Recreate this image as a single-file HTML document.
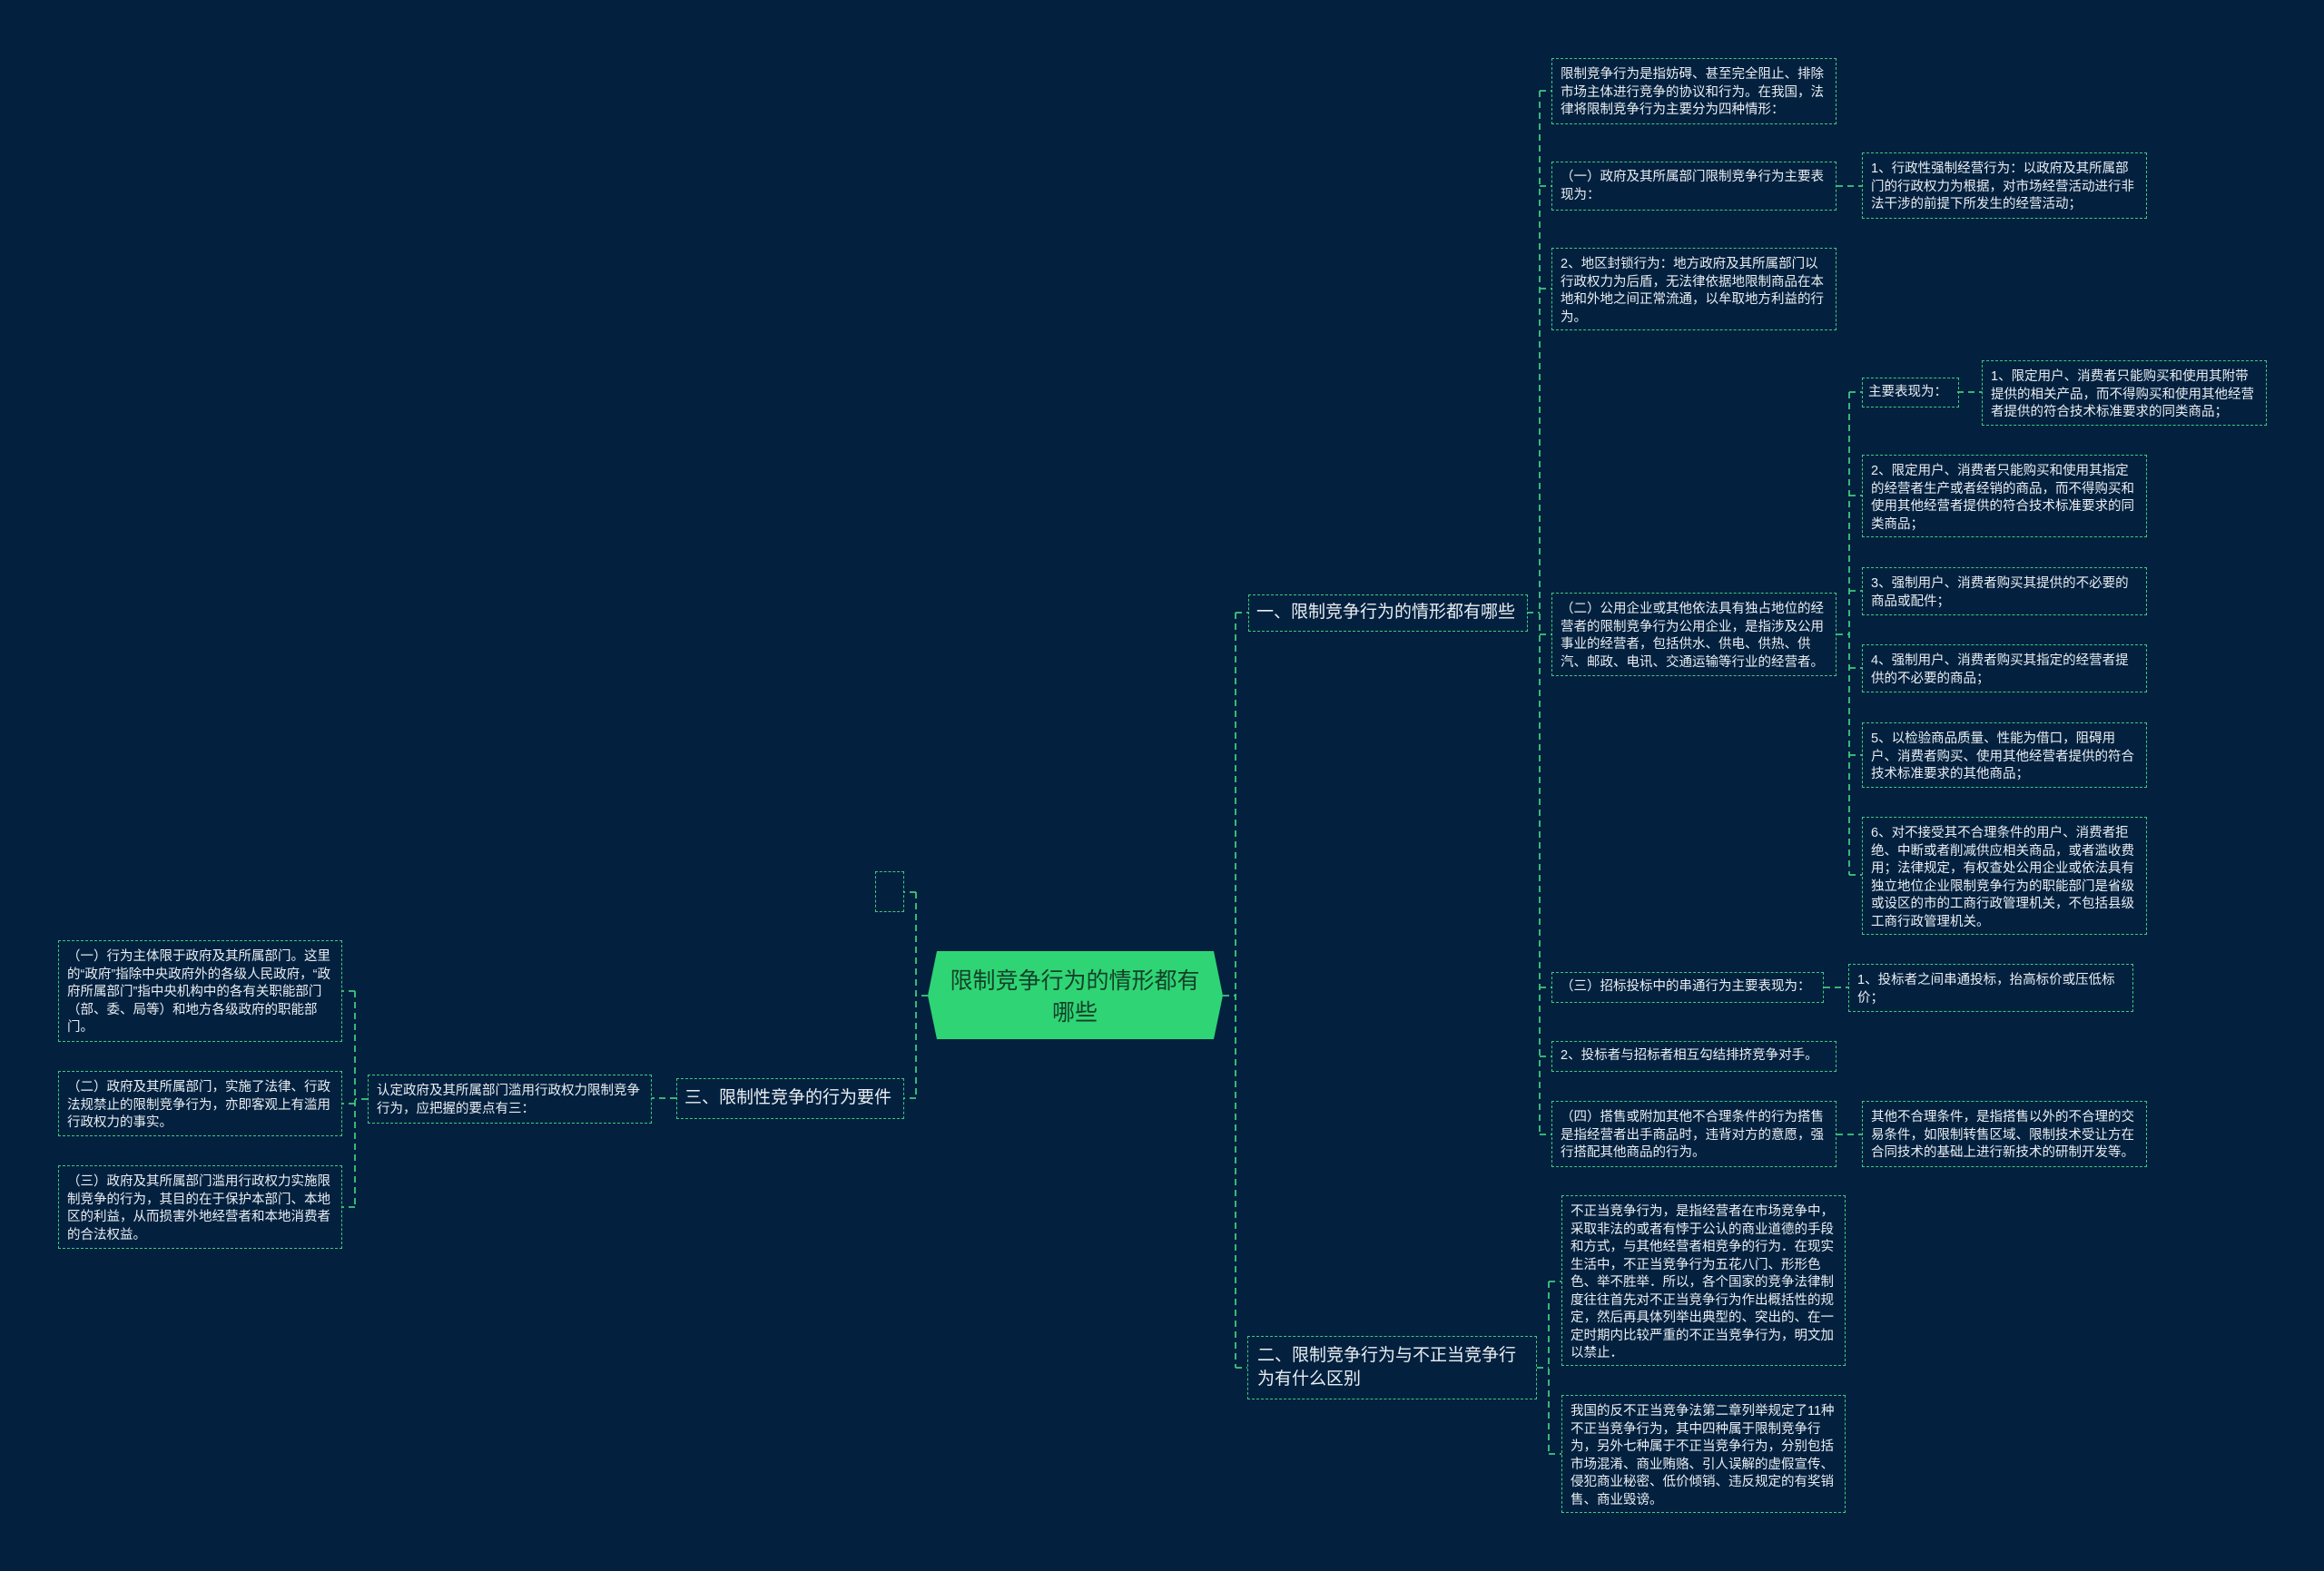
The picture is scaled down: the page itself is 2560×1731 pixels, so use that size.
<!DOCTYPE html>
<html><head><meta charset="utf-8"><style>
body{margin:0;width:2560px;height:1731px;background:#03213f;overflow:hidden;font-family:"Liberation Sans","Noto Sans CJK SC",sans-serif;}
.n{position:absolute;box-sizing:border-box;border:1.6px dashed #3fc97c;color:#e9eef2;font-size:14.5px;line-height:19.5px;padding:8px 8px 6px 9px;word-break:break-all;}
.b{font-size:19px;line-height:26px;padding:10px 10px;}
.nw{white-space:nowrap;}
svg{position:absolute;left:0;top:0;}
</style></head><body>
<svg width="2560" height="1731">
<g stroke="#3fc97c" stroke-width="1.8" stroke-dasharray="7,5" fill="none">
<path d="M1347 1097 H1361 M1361 675 V1507 M1361 675 H1375 M1361 1507 H1374"/>
<path d="M1022 1097 H1009 M1009 983 V1210 M1009 983 H996 M1009 1210 H995"/>
<path d="M1682 675 H1696 M1696 100 V1250"/>
<path d="M1696 100 H1709 M1696 205 H1709 M1696 318 H1709 M1696 699 H1709 M1696 1088 H1709 M1696 1164 H1709 M1696 1250 H1709"/>
<path d="M2023 205 H2051 M2009 1088 H2036 M2023 1250 H2051"/>
<path d="M2023 699 H2037 M2037 432 V964 M2037 432 H2051 M2037 546 H2051 M2037 651 H2051 M2037 736 H2051 M2037 832 H2051 M2037 964 H2051"/>
<path d="M2156 432 H2183"/>
<path d="M1693 1507 H1706 M1706 1412 V1602 M1706 1412 H1720 M1706 1602 H1720"/>
<path d="M745 1210 H718 M405 1211 H391 M391 1092 V1330 M391 1092 H377 M391 1216 H377 M391 1330 H377"/>
</g>
<polygon points="1032,1048 1337,1048 1347,1097 1337,1145 1032,1145 1022,1097" fill="#2fd574"/>
<text x="1184" y="1089" font-size="25" fill="#14402a" text-anchor="middle" font-family="Liberation Sans, Noto Sans CJK SC, sans-serif">限制竞争行为的情形都有</text>
<text x="1184" y="1124" font-size="25" fill="#14402a" text-anchor="middle" font-family="Liberation Sans, Noto Sans CJK SC, sans-serif">哪些</text>
</svg>
<div class="n" style="left:964px;top:960px;width:32px;height:45px;padding:0"></div>

<div class="n b nw" style="left:1375px;top:655px;width:308px;height:41px;padding:6px 8px">一、限制竞争行为的情形都有哪些</div>
<div class="n b" style="left:1374px;top:1472px;width:319px;height:70px;padding:8px 10px">二、限制竞争行为与不正当竞争行为有什么区别</div>
<div class="n b nw" style="left:745px;top:1188px;width:251px;height:45px;padding:8px 8px">三、限制性竞争的行为要件</div>

<div class="n" style="left:1709px;top:64px;width:314px;height:73px">限制竞争行为是指妨碍、甚至完全阻止、排除市场主体进行竞争的协议和行为。在我国，法律将限制竞争行为主要分为四种情形：</div>
<div class="n" style="left:1709px;top:178px;width:314px;height:54px;padding-top:7px">（一）政府及其所属部门限制竞争行为主要表现为：</div>
<div class="n" style="left:2051px;top:168px;width:314px;height:73px">1、行政性强制经营行为：以政府及其所属部门的行政权力为根据，对市场经营活动进行非法干涉的前提下所发生的经营活动；</div>
<div class="n" style="left:1709px;top:273px;width:314px;height:91px">2、地区封锁行为：地方政府及其所属部门以行政权力为后盾，无法律依据地限制商品在本地和外地之间正常流通，以牟取地方利益的行为。</div>
<div class="n nw" style="left:2051px;top:416px;width:107px;height:33px;padding:6px 6px">主要表现为：</div>
<div class="n" style="left:2183px;top:397px;width:314px;height:72px">1、限定用户、消费者只能购买和使用其附带提供的相关产品，而不得购买和使用其他经营者提供的符合技术标准要求的同类商品；</div>
<div class="n" style="left:2051px;top:501px;width:314px;height:91px">2、限定用户、消费者只能购买和使用其指定的经营者生产或者经销的商品，而不得购买和使用其他经营者提供的符合技术标准要求的同类商品；</div>
<div class="n" style="left:2051px;top:625px;width:314px;height:53px">3、强制用户、消费者购买其提供的不必要的商品或配件；</div>
<div class="n" style="left:1709px;top:653px;width:314px;height:92px">（二）公用企业或其他依法具有独占地位的经营者的限制竞争行为公用企业，是指涉及公用事业的经营者，包括供水、供电、供热、供汽、邮政、电讯、交通运输等行业的经营者。</div>
<div class="n" style="left:2051px;top:710px;width:314px;height:53px">4、强制用户、消费者购买其指定的经营者提供的不必要的商品；</div>
<div class="n" style="left:2051px;top:796px;width:314px;height:72px">5、以检验商品质量、性能为借口，阻碍用户、消费者购买、使用其他经营者提供的符合技术标准要求的其他商品；</div>
<div class="n" style="left:2051px;top:900px;width:314px;height:130px">6、对不接受其不合理条件的用户、消费者拒绝、中断或者削减供应相关商品，或者滥收费用；法律规定，有权查处公用企业或依法具有独立地位企业限制竞争行为的职能部门是省级或设区的市的工商行政管理机关，不包括县级工商行政管理机关。</div>
<div class="n" style="left:1709px;top:1071px;width:300px;height:34px;padding-top:6px">（三）招标投标中的串通行为主要表现为：</div>
<div class="n" style="left:2036px;top:1062px;width:314px;height:53px">1、投标者之间串通投标，抬高标价或压低标价；</div>
<div class="n" style="left:1709px;top:1147px;width:314px;height:34px;padding-top:6px">2、投标者与招标者相互勾结排挤竞争对手。</div>
<div class="n" style="left:1709px;top:1213px;width:314px;height:73px">（四）搭售或附加其他不合理条件的行为搭售是指经营者出手商品时，违背对方的意愿，强行搭配其他商品的行为。</div>
<div class="n" style="left:2051px;top:1213px;width:314px;height:73px">其他不合理条件，是指搭售以外的不合理的交易条件，如限制转售区域、限制技术受让方在合同技术的基础上进行新技术的研制开发等。</div>

<div class="n" style="left:1720px;top:1317px;width:313px;height:188px">不正当竞争行为，是指经营者在市场竞争中，采取非法的或者有悖于公认的商业道德的手段和方式，与其他经营者相竞争的行为．在现实生活中，不正当竞争行为五花八门、形形色色、举不胜举．所以，各个国家的竞争法律制度往往首先对不正当竞争行为作出概括性的规定，然后再具体列举出典型的、突出的、在一定时期内比较严重的不正当竞争行为，明文加以禁止．</div>
<div class="n" style="left:1720px;top:1537px;width:313px;height:130px">我国的反不正当竞争法第二章列举规定了11种不正当竞争行为，其中四种属于限制竞争行为，另外七种属于不正当竞争行为，分别包括市场混淆、商业贿赂、引人误解的虚假宣传、侵犯商业秘密、低价倾销、违反规定的有奖销售、商业毁谤。</div>

<div class="n" style="left:405px;top:1184px;width:313px;height:54px">认定政府及其所属部门滥用行政权力限制竞争行为，应把握的要点有三：</div>
<div class="n" style="left:64px;top:1036px;width:313px;height:112px">（一）行为主体限于政府及其所属部门。这里的“政府”指除中央政府外的各级人民政府，“政府所属部门”指中央机构中的各有关职能部门（部、委、局等）和地方各级政府的职能部门。</div>
<div class="n" style="left:64px;top:1180px;width:313px;height:72px">（二）政府及其所属部门，实施了法律、行政法规禁止的限制竞争行为，亦即客观上有滥用行政权力的事实。</div>
<div class="n" style="left:64px;top:1284px;width:313px;height:92px">（三）政府及其所属部门滥用行政权力实施限制竞争的行为，其目的在于保护本部门、本地区的利益，从而损害外地经营者和本地消费者的合法权益。</div>
</body></html>
